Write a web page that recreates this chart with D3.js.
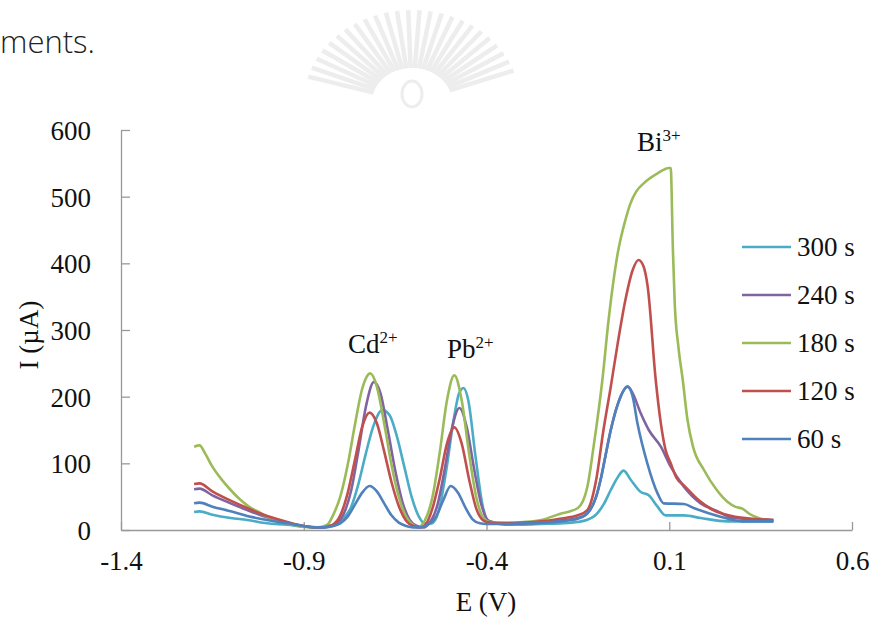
<!DOCTYPE html>
<html>
<head>
<meta charset="utf-8">
<script src="https://d3js.org/d3.v7.min.js"></script>
<style>
  body { margin: 0; background: #fff; }
  svg { display: block; }
  .tick text { font-family: "Liberation Serif", serif; font-size: 27px; fill: #111; }
</style>
</head>
<body>
<svg id="chart" width="875" height="621"></svg>
<script>
// legend order (top to bottom) and colours
const seriesNames = ["300 s", "240 s", "180 s", "120 s", "60 s"];
const seriesColors = ["#4BACC6", "#8064A2", "#9BBB59", "#C0504D", "#4F81BD"];

const xTicks = [-1.4, -0.9, -0.4, 0.1, 0.6];
const yTicks = [0, 100, 200, 300, 400, 500, 600];

// [E (V), I (uA)]
const s300 = [[-1.2,27],[-1.185,28],[-1.15,23],[-1.1,18],[-1.055,15],[-1.0,10],[-0.945,8],[-0.9,5],[-0.86,4],[-0.83,5],[-0.81,8],
  [-0.79,18],[-0.77,35],[-0.75,70],[-0.73,115],[-0.71,155],[-0.685,180],[-0.665,172],[-0.645,140],[-0.625,95],[-0.605,50],[-0.585,20],[-0.57,10],
  [-0.55,10],[-0.53,30],[-0.51,90],[-0.49,165],[-0.475,205],[-0.463,213],[-0.45,195],[-0.43,110],[-0.41,35],[-0.395,14],
  [-0.35,8],[-0.3,8],[-0.25,9],[-0.2,10],[-0.15,12],
  [-0.107,20],[-0.08,38],[-0.06,60],[-0.04,80],[-0.025,89],[-0.005,75],[0.022,57],[0.044,52],[0.068,35],[0.09,22],[0.14,22],[0.186,18],[0.26,13],[0.385,13]];

const s240 = [[-1.2,61],[-1.185,62],[-1.15,52],[-1.1,40],[-1.055,30],[-1.0,19],[-0.945,11],[-0.9,6],[-0.87,4],[-0.85,4],[-0.83,6],
  [-0.81,10],[-0.79,25],[-0.77,60],[-0.75,120],[-0.73,185],[-0.708,222],[-0.69,205],[-0.67,150],[-0.65,90],[-0.63,42],[-0.61,15],[-0.59,6],[-0.57,4],
  [-0.56,8],[-0.534,38],[-0.514,92],[-0.494,154],[-0.474,183],[-0.454,154],[-0.434,92],[-0.414,38],[-0.395,14],
  [-0.35,9],[-0.3,10],[-0.25,11],[-0.2,14],[-0.15,18],
  [-0.124,25],[-0.1,50],[-0.088,75],[-0.075,110],[-0.06,150],[-0.04,190],[-0.014,215],[0.0,205],[0.022,175],[0.044,150],[0.077,125],[0.104,95],[0.14,65],[0.186,40],[0.233,28],[0.275,18],[0.385,15]];

const s180 = [[-1.2,125],[-1.185,127],[-1.17,115],[-1.15,95],[-1.125,76],[-1.1,60],[-1.075,46],[-1.05,35],[-1.02,26],[-1.0,20],[-0.97,14],[-0.945,10],[-0.92,7],[-0.9,5],[-0.87,4],[-0.85,5],[-0.835,8],
  [-0.82,22],[-0.8,50],[-0.78,97],[-0.76,158],[-0.74,212],[-0.718,235],[-0.7,215],[-0.68,160],[-0.66,98],[-0.64,50],[-0.62,20],[-0.6,7],[-0.588,4],
  [-0.568,15],[-0.548,49],[-0.528,116],[-0.508,195],[-0.488,232],[-0.468,195],[-0.448,116],[-0.428,49],[-0.408,18],[-0.39,12],
  [-0.35,11],[-0.3,12],[-0.25,15],[-0.2,24],[-0.15,33],
  [-0.124,65],[-0.107,125],[-0.083,225],[-0.066,315],[-0.041,415],[-0.02,465],[-0.006,490],[0.01,508],[0.03,520],[0.068,535],[0.099,543],[0.104,543],
  [0.11,420],[0.115,340],[0.125,275],[0.137,225],[0.15,165],[0.165,125],[0.195,90],[0.23,60],[0.26,42],[0.28,35],[0.3,32],[0.32,24],[0.35,17],[0.385,14]];

const s120 = [[-1.2,69],[-1.185,70],[-1.15,58],[-1.1,44],[-1.055,33],[-1.0,21],[-0.945,12],[-0.9,6],[-0.87,4],[-0.85,4],[-0.83,6],
  [-0.82,8],[-0.8,22],[-0.78,55],[-0.76,105],[-0.74,155],[-0.72,176],[-0.7,160],[-0.68,118],[-0.66,72],[-0.64,36],[-0.62,14],[-0.6,6],[-0.58,4],
  [-0.57,6],[-0.548,32],[-0.528,77],[-0.508,130],[-0.488,154],[-0.468,130],[-0.448,77],[-0.428,32],[-0.408,14],[-0.39,11],
  [-0.35,10],[-0.3,11],[-0.25,13],[-0.2,17],[-0.15,22],
  [-0.124,30],[-0.1,75],[-0.08,150],[-0.06,215],[-0.041,280],[-0.02,345],[0.0,390],[0.016,405],[0.03,395],[0.041,365],[0.063,225],[0.077,160],[0.09,120],[0.104,100],[0.12,78],[0.14,67],[0.18,45],[0.22,30],[0.28,20],[0.385,15]];

const s60 = [[-1.2,40],[-1.185,41],[-1.15,35],[-1.1,28],[-1.055,21],[-1.0,15],[-0.945,10],[-0.9,6],[-0.87,4],[-0.84,4],[-0.82,6],
  [-0.8,10],[-0.78,20],[-0.76,38],[-0.74,56],[-0.72,66],[-0.7,58],[-0.68,40],[-0.66,22],[-0.64,11],[-0.62,6],[-0.6,4],[-0.58,4],
  [-0.56,8],[-0.538,20],[-0.518,45],[-0.498,66],[-0.478,56],[-0.458,34],[-0.438,16],[-0.418,10],[-0.4,9],
  [-0.35,9],[-0.3,10],[-0.25,11],[-0.2,13],[-0.15,17],
  [-0.124,25],[-0.1,50],[-0.088,75],[-0.075,110],[-0.06,150],[-0.04,190],[-0.014,215],[0.0,200],[0.013,160],[0.04,100],[0.068,55],[0.085,40],[0.14,39],[0.167,33],[0.24,20],[0.3,13],[0.385,13]];

const seriesData = [s300, s240, s180, s120, s60];

const svg = d3.select("#chart");
const x = d3.scaleLinear([-1.4, 0.6], [121, 852]);
const y = d3.scaleLinear([0, 600], [530, 130]);

// faint watermark behind the page text
const wm = svg.append("g").attr("stroke", "#ededed").attr("fill", "none");
d3.range(196, 345, 6).forEach(a => {
  const r = a * Math.PI / 180;
  wm.append("line")
    .attr("x1", 412 + 40 * Math.cos(r)).attr("y1", 102 + 34 * Math.sin(r))
    .attr("x2", 412 + 108 * Math.cos(r)).attr("y2", 102 + 92 * Math.sin(r))
    .attr("stroke-width", 4.5);
});
wm.append("ellipse").attr("cx", 412).attr("cy", 94).attr("rx", 10).attr("ry", 13).attr("stroke-width", 3);

svg.append("text").attr("x", 0).attr("y", 53)
  .style("font-family", "'Open Sans', sans-serif").style("font-weight", 300)
  .style("font-size", "31px").style("fill", "#222")
  .text("ments.");

// axes (hyphen minus like the original)
const fmt = d => d.toFixed(1);
const xAxis = svg.append("g").attr("transform", "translate(0,530)")
  .call(d3.axisBottom(x).tickValues(xTicks).tickFormat(fmt).tickSizeInner(-8).tickSizeOuter(0).tickPadding(26));
const yAxis = svg.append("g").attr("transform", "translate(121,0)")
  .call(d3.axisLeft(y).tickValues(yTicks).tickSizeInner(-9).tickSizeOuter(0).tickPadding(30));
[xAxis, yAxis].forEach(g => {
  g.select(".domain").attr("stroke", "#999").attr("stroke-width", 1.3);
  g.selectAll(".tick line").attr("stroke", "#999").attr("stroke-width", 1.3);
});
xAxis.selectAll(".tick text").attr("dy", "0.5em");
yAxis.selectAll(".tick text").attr("dy", "0.35em");

// curves
const line = d3.line().x(d => x(d[0])).y(d => y(d[1])).curve(d3.curveMonotoneX);
svg.append("g").selectAll("path")
  .data(seriesData)
  .join("path")
  .attr("d", line)
  .attr("fill", "none")
  .attr("stroke", (d, i) => seriesColors[i])
  .attr("stroke-width", 2.6)
  .attr("stroke-linejoin", "round");

// legend
const legend = svg.append("g").selectAll("g")
  .data(seriesNames)
  .join("g")
  .attr("transform", (d, i) => `translate(742,${247 + i * 48})`);
legend.append("line").attr("x1", 0).attr("x2", 49)
  .attr("stroke", (d, i) => seriesColors[i]).attr("stroke-width", 2.6);
legend.append("text").attr("x", 55).attr("dy", "0.35em")
  .style("font-family", "'Liberation Serif', serif").style("font-size", "27px").style("fill", "#111")
  .text(d => d);

// axis titles
const serif = sel => sel.style("font-family", "'Liberation Serif', serif").style("font-size", "27px").style("fill", "#111");
svg.append("text").attr("x", 486).attr("y", 611).attr("text-anchor", "middle").call(serif).text("E (V)");
svg.append("text").attr("transform", "translate(38,335) rotate(-90)").attr("text-anchor", "middle").call(serif).text("I (µA)");

// peak labels
const peaks = [["Cd", "2+", 348, 353], ["Pb", "2+", 447, 358], ["Bi", "3+", 637, 151]];
peaks.forEach(p => {
  const t = svg.append("text").attr("x", p[2]).attr("y", p[3]).call(serif);
  t.append("tspan").text(p[0]);
  t.append("tspan").attr("dy", -10).style("font-size", "17px").text(p[1]);
});
</script>
</body>
</html>
